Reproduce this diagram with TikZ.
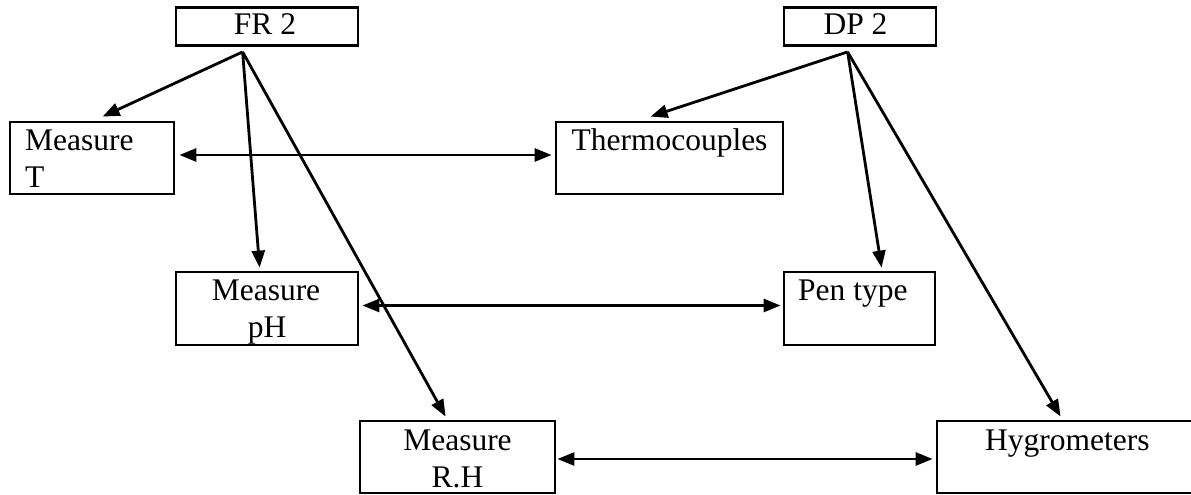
\documentclass[tikz,border=0pt]{standalone}
\usepackage{fontspec}
\setmainfont{Liberation Serif}
\usetikzlibrary{arrows.meta,calc}
\tikzset{
  box/.style={draw, line width=2.8pt, rectangle, inner sep=0pt},
  lbl/.style={anchor=base, inner sep=0pt, font=\fontsize{31.5}{36}\selectfont},
  lblw/.style={lbl, anchor=base west},
  tip/.tip={Triangle[length=17pt,width=13pt]},
  arr/.style={line width=2.8pt, -tip},
  dbl/.style={line width=2.8pt, tip-tip}
}
\begin{document}
\begin{tikzpicture}[x=1pt, y=-1pt]
\clip (0,0) rectangle (1191,495);
\fill[white] (0,0) rectangle (1191,495);

% boxes
\node[box, minimum width=182pt, minimum height=38pt] (fr)  at (267,26.5) {};
\node[box, minimum width=152pt, minimum height=38pt] (dp)  at (860,26.5) {};
\node[box, minimum width=164pt, minimum height=72pt] (t)   at (92,158) {};
\node[box, minimum width=227pt, minimum height=72pt] (th)  at (669.5,158) {};
\node[box, minimum width=182pt, minimum height=73pt] (ph)  at (267,308.5) {};
\node[box, minimum width=151pt, minimum height=73pt] (pen) at (859.5,308.5) {};
\node[box, minimum width=195pt, minimum height=72pt] (rh)  at (457.5,457) {};
\node[box, minimum width=261pt, minimum height=72pt] (hy)  at (1067.5,457) {};

% labels
\node[lbl]  (frL)  at (265,35)  {FR 2};
\node[lbl]  (dpL)  at (855.5,35) {DP 2};
\node[lblw] (tL1)  at (25,150)  {Measure};
\node[lblw] (tL2)  at (25,187)  {T};
\node[lbl]  (thL)  at (669.5,150) {Thermocouples};
\node[lbl]  (phL1) at (266,300) {Measure};
\node[lbl]  (phL2) at (267,337) {pH};
\node[lblw] (penL) at (798,300) {Pen type};
\node[lbl]  (rhL1) at (457.5,450) {Measure};
\node[lbl]  (rhL2) at (457.5,487) {R.H};
\node[lblw] (hyL)  at (985,450) {Hygrometers};

% fan-out points below the top boxes
\coordinate (frO) at ($(fr.south west)+(68,5)$);
\coordinate (dpO) at ($(dp.south west)+(65,5)$);

% FR 2 branches
\draw[arr] (frO) -- ($(t.north west)+(94,-4)$);
\draw[arr] (frO) -- ($(ph.north west)+(85,-3)$);
\draw[arr] (frO) -- ($(rh.north west)+(87,-3)$);

% DP 2 branches
\draw[arr] (dpO) -- ($(th.north west)+(96,-4)$);
\draw[arr] (dpO) -- ($(pen.north west)+(99,-3)$);
\draw[arr] (dpO) -- ($(hy.north west)+(125,-3)$);

% horizontal links
\draw[dbl] ($(t.east)+(4,-3)$) -- ($(th.west)+(-3,-3)$);
\draw[dbl] ($(ph.east)+(3,-3)$) -- ($(pen.west)+(-2,-3)$);
\draw[dbl] ($(rh.east)+(1,2)$) -- ($(hy.west)+(-3,2)$);
\end{tikzpicture}
\end{document}
